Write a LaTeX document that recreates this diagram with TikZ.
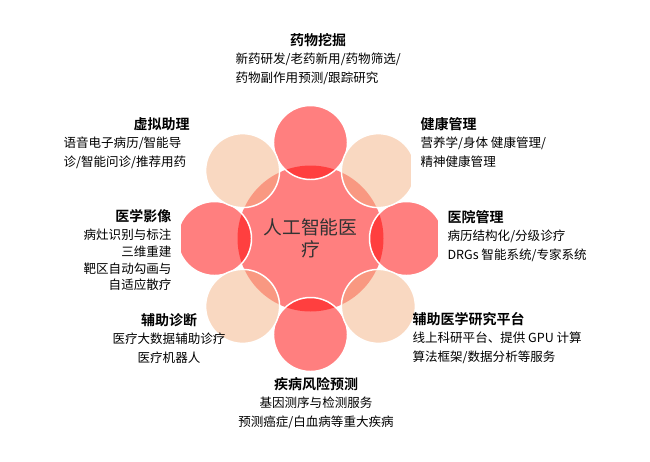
\documentclass[tikz,border=0pt]{standalone}
\usepackage{fontspec}
\setmainfont{Noto Sans CJK SC}[BoldFont={Noto Sans CJK SC Bold}]
\usetikzlibrary{positioning}

\definecolor{petal}{RGB}{255,0,0}
\definecolor{peach}{RGB}{244,177,131}

\begin{document}
\begin{tikzpicture}[
    x=0.75pt, y=-0.75pt,
    hub/.style={circle, fill=petal, fill opacity=0.5, text opacity=1,
                minimum size=109.5pt, inner sep=0pt, text=black!80, align=center,
                font=\fontsize{14.1pt}{16.5pt}\selectfont},
    redpetal/.style={circle, draw=white, line width=1.1pt, fill=petal,
                     fill opacity=0.5, minimum size=55.5pt, inner sep=0pt},
    peachpetal/.style={redpetal, fill=peach},
    title/.style={inner xsep=7pt, inner ysep=2pt,
                  font=\fontsize{10.5pt}{12pt}\selectfont\bfseries},
    body/.style={inner xsep=7pt, inner ysep=2pt, align=left,
                 font=\fontsize{9.4pt}{14.3pt}\selectfont},
    cover/.style={fill=white}
]
\useasboundingbox (0,0) rectangle (650,461);

% Define circles
\node[hub] (hub) at (310.5,238.5) {人工智能医\\疗};
\foreach \a in {0,90,180,270}
    \node[redpetal] (petal\a) at ([shift={(\a:96)}]hub.center) {};
\foreach \a in {45,135,225,315}
    \node[peachpetal] (petal\a) at ([shift={(\a:96)}]hub.center) {};

% Labels
\node[body, anchor=north west] (drugtxt) at (226,50) {新药研发/老药新用/药物筛选/\\药物副作用预测/跟踪研究};
\node[title, above=0pt of drugtxt] (drug) {药物挖掘};

\node[body, cover, anchor=north west, text depth=18pt] (healthtxt) at (411,134) {营养学/身体 健康管理/\\精神健康管理};
\node[title, cover, above right=0pt and 0pt of healthtxt.north west] (health) {健康管理};

\node[body, cover, anchor=north west] (hosptxt) at (438,227) {病历结构化/分级诊疗\\DRGs 智能系统/专家系统};
\node[title, cover, above right=0pt and 0pt of hosptxt.north west] (hosp) {医院管理};

\node[body, anchor=north west] (researchtxt) at (403,329) {线上科研平台、提供 GPU 计算\\算法框架/数据分析等服务};
\node[title, above right=0pt and 0pt of researchtxt.north west] (research) {辅助医学研究平台};

\node[body, align=center, anchor=north] (risktxt) at (316,394) {基因测序与检测服务\\预测癌症/白血病等重大疾病};
\node[title, above=0pt of risktxt] (risk) {疾病风险预测};

\node[body, align=center, anchor=north] (diagtxt) at (169,330) {医疗大数据辅助诊疗\\医疗机器人};
\node[title, above=0pt of diagtxt] (diag) {辅助诊断};

\node[body, cover, align=right, anchor=north east, font=\fontsize{9.4pt}{12.6pt}\selectfont] (imagetxt) at (181,226) {病灶识别与标注\\三维重建\\靶区自动勾画与\\自适应散疗};
\node[title, cover, above left=0pt and 0pt of imagetxt.north east] (image) {医学影像};

\node[body, text width=94.5pt, anchor=north west] (assisttxt) at (54,134) {语音电子病历/智能导\\诊/智能问诊/推荐用药};
\node[title, above left=0pt and 0pt of assisttxt.north east] (assist) {虚拟助理};

\end{tikzpicture}
\end{document}
